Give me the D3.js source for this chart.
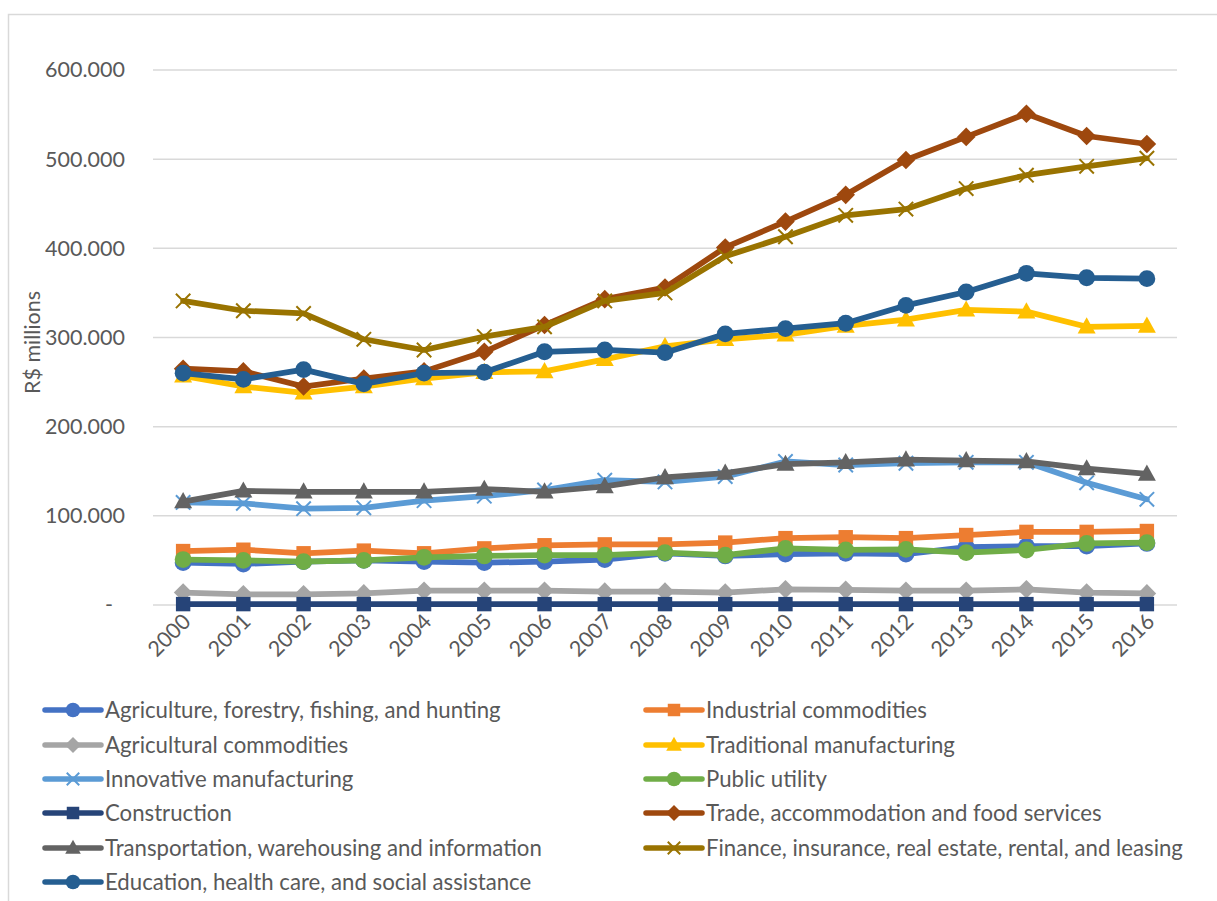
<!DOCTYPE html>
<html>
<head>
<meta charset="utf-8">
<script src="https://cdn.jsdelivr.net/npm/d3@7"></script>
<style>
  html, body { margin: 0; padding: 0; background: #fff; }
  svg { display: block; font-family: Lato, "Open Sans", sans-serif; }
</style>
</head>
<body>
<svg id="chart" width="1217" height="901"></svg>
<script>
// Years on the category axis
const years = ["2000","2001","2002","2003","2004","2005","2006","2007","2008",
               "2009","2010","2011","2012","2013","2014","2015","2016"];

// Gross value added by sector, R$ millions
const agriculture    = [47500, 46000, 48600, 50000, 48600, 47500, 48600, 51000, 58000, 55000, 57000, 58000, 57000, 65000, 66000, 66000, 69000];
const industrial     = [60500, 62000, 58000, 61000, 58000, 63500, 67000, 68000, 68000, 70000, 75000, 76000, 75000, 78500, 82000, 82000, 83000];
const agriCommod     = [14000, 12000, 12000, 13000, 16000, 16000, 16000, 15000, 15000, 14000, 17600, 17000, 16000, 16000, 17600, 14000, 13000];
const traditional    = [257000, 245000, 238000, 245000, 254000, 261000, 262000, 275500, 290000, 298000, 303000, 313000, 320000, 331000, 329000, 312000, 313000];
const innovative     = [115000, 114000, 108000, 109000, 117000, 122000, 129000, 140000, 138000, 144000, 161000, 157000, 159000, 160000, 160000, 137000, 118500];
const publicUtility  = [51000, 50000, 48600, 50000, 53500, 55000, 56000, 56000, 58700, 56000, 63500, 61700, 62400, 58700, 61700, 69000, 70000];
const construction   = [1000, 1000, 1000, 1000, 1000, 1000, 1000, 1000, 1000, 1000, 1000, 1000, 1000, 1000, 1000, 1000, 1000];
const trade          = [265000, 262000, 245000, 254000, 262000, 284000, 314000, 343000, 356000, 401000, 430000, 460000, 499000, 525000, 551000, 526000, 517000];
const transportation = [116000, 128000, 127000, 127000, 127000, 130000, 127000, 133000, 143000, 148000, 158000, 160000, 163000, 162000, 161000, 153000, 147000];
const finance        = [341000, 330000, 327000, 298000, 286000, 301000, 312000, 341000, 350000, 391000, 413000, 437000, 444000, 467000, 482000, 492000, 501000];
const education      = [260000, 253000, 264000, 248000, 260000, 261000, 284000, 286000, 283000, 304000, 310000, 316000, 336000, 351000, 372000, 367000, 366000];

const seriesNames = [
  "Agriculture, forestry, fishing, and hunting",
  "Industrial commodities",
  "Agricultural commodities",
  "Traditional manufacturing",
  "Innovative manufacturing",
  "Public utility",
  "Construction",
  "Trade, accommodation and food services",
  "Transportation, warehousing and information",
  "Finance, insurance, real estate, rental, and leasing",
  "Education, health care, and social assistance"
];
const seriesValues = [agriculture, industrial, agriCommod, traditional, innovative,
                      publicUtility, construction, trade, transportation, finance, education];
const seriesColors = ["#4472C4", "#ED7D31", "#A5A5A5", "#FFC000", "#5B9BD5",
                      "#70AD47", "#264478", "#9E480E", "#636363", "#997300", "#255E91"];
const seriesMarkers = ["circle", "square", "diamond", "triangle", "cross",
                       "circle", "square", "diamond", "triangle", "cross", "circle"];

const yTicks = [0, 100000, 200000, 300000, 400000, 500000, 600000];

const series = seriesNames.map((name, i) => ({
  name, values: seriesValues[i], color: seriesColors[i], marker: seriesMarkers[i]
}));

const svg = d3.select("#chart");
const textColor = "#595959";
const axisFont = 21.5;
const legendFont = 22.2;

// Outer chart frame
svg.append("rect")
  .attr("x", 8.5).attr("y", 14.5)
  .attr("width", 1230).attr("height", 920)
  .attr("fill", "#fff").attr("stroke", "#d9d9d9").attr("stroke-width", 1.5);

const plot = { left: 153, right: 1177, top: 70, bottom: 605 };

const x = d3.scaleBand().domain(years).range([plot.left, plot.right]);
const y = d3.scaleLinear().domain([0, 600000]).range([plot.bottom, plot.top]);
const cx = yr => x(yr) + x.bandwidth() / 2;

// Horizontal gridlines
svg.append("g")
  .selectAll("line").data(yTicks).join("line")
  .attr("x1", plot.left).attr("x2", plot.right)
  .attr("y1", d => y(d)).attr("y2", d => y(d))
  .attr("stroke", "#d9d9d9").attr("stroke-width", 1.5);

// Value axis labels (accounting style: zero shown as a dash)
const fmt = d3.formatLocale({ decimal: ",", thousands: ".", grouping: [3], currency: ["", ""] }).format(",d");
const yAxis = d3.axisLeft(y).tickValues(yTicks).tickSize(0).tickPadding(0)
  .tickFormat(d => d === 0 ? "-" : fmt(d));
const gy = svg.append("g").attr("transform", `translate(125,0)`).call(yAxis);
gy.select(".domain").remove();
gy.selectAll("text")
  .attr("fill", textColor).attr("font-size", axisFont)
  .attr("font-family", "Lato, 'Open Sans', sans-serif");
gy.selectAll(".tick").filter(d => d === 0).select("text").attr("dx", -12);

// Category axis labels, rotated
const xAxis = d3.axisBottom(x).tickSize(0).tickPadding(0);
const gx = svg.append("g").attr("transform", `translate(0,${plot.bottom})`).call(xAxis);
gx.select(".domain").remove();
gx.selectAll("text")
  .attr("fill", textColor).attr("font-size", axisFont)
  .attr("font-family", "Lato, 'Open Sans', sans-serif")
  .attr("text-anchor", "end")
  .attr("dy", null).attr("y", null)
  .attr("transform", "translate(5,14) rotate(-45)")
  .attr("dominant-baseline", "middle");

// Y-axis title
svg.append("text")
  .attr("transform", `translate(40,${(plot.top + plot.bottom) / 2 + 5}) rotate(-90)`)
  .attr("text-anchor", "middle")
  .attr("fill", textColor).attr("font-size", axisFont)
  .text("R$ millions");

// Marker drawing
function drawMarker(g, type, color, size) {
  if (type === "circle") {
    g.append("circle").attr("r", size * 0.56).attr("fill", color);
  } else if (type === "square") {
    g.append("rect").attr("x", -size * 0.48).attr("y", -size * 0.48)
      .attr("width", size * 0.96).attr("height", size * 0.96).attr("fill", color);
  } else if (type === "diamond") {
    const s = size * 0.62;
    g.append("path").attr("d", `M0,${-s}L${s},0L0,${s}L${-s},0Z`).attr("fill", color);
  } else if (type === "triangle") {
    const s = size * 0.6;
    g.append("path").attr("d", `M0,${-s * 1.05}L${s},${s * 0.75}L${-s},${s * 0.75}Z`).attr("fill", color);
  } else if (type === "cross") {
    const s = size * 0.48;
    g.append("path").attr("d", `M${-s},${-s}L${s},${s}M${-s},${s}L${s},${-s}`)
      .attr("stroke", color).attr("stroke-width", 2).attr("fill", "none");
  }
}

const line = d3.line().x((d, i) => cx(years[i])).y(d => y(d));

// Series lines with markers, drawn in series order
const gs = svg.append("g");
series.forEach(s => {
  const g = gs.append("g");
  g.append("path").datum(s.values)
    .attr("d", line)
    .attr("fill", "none").attr("stroke", s.color)
    .attr("stroke-width", 5.75).attr("stroke-linejoin", "round").attr("stroke-linecap", "round");
  s.values.forEach((v, i) => {
    const m = g.append("g").attr("transform", `translate(${cx(years[i])},${y(v)})`);
    drawMarker(m, s.marker, s.color, 15);
  });
});

// Legend in two columns
const legend = svg.append("g");
const rowY = [710, 745, 779, 813, 848, 882];
series.forEach((s, i) => {
  const col = i % 2, row = Math.floor(i / 2);
  const lx = col === 0 ? 45 : 646;
  const g = legend.append("g").attr("transform", `translate(${lx},${rowY[row]})`);
  g.append("line").attr("x1", 0).attr("x2", 56).attr("y1", 0).attr("y2", 0)
    .attr("stroke", s.color).attr("stroke-width", 5.5).attr("stroke-linecap", "round");
  const m = g.append("g").attr("transform", "translate(28,0)");
  drawMarker(m, s.marker, s.color, 13);
  g.append("text").attr("x", 60).attr("y", 0).attr("dy", "0.35em")
    .attr("fill", textColor).attr("font-size", legendFont)
    .text(s.name);
});
</script>
</body>
</html>
